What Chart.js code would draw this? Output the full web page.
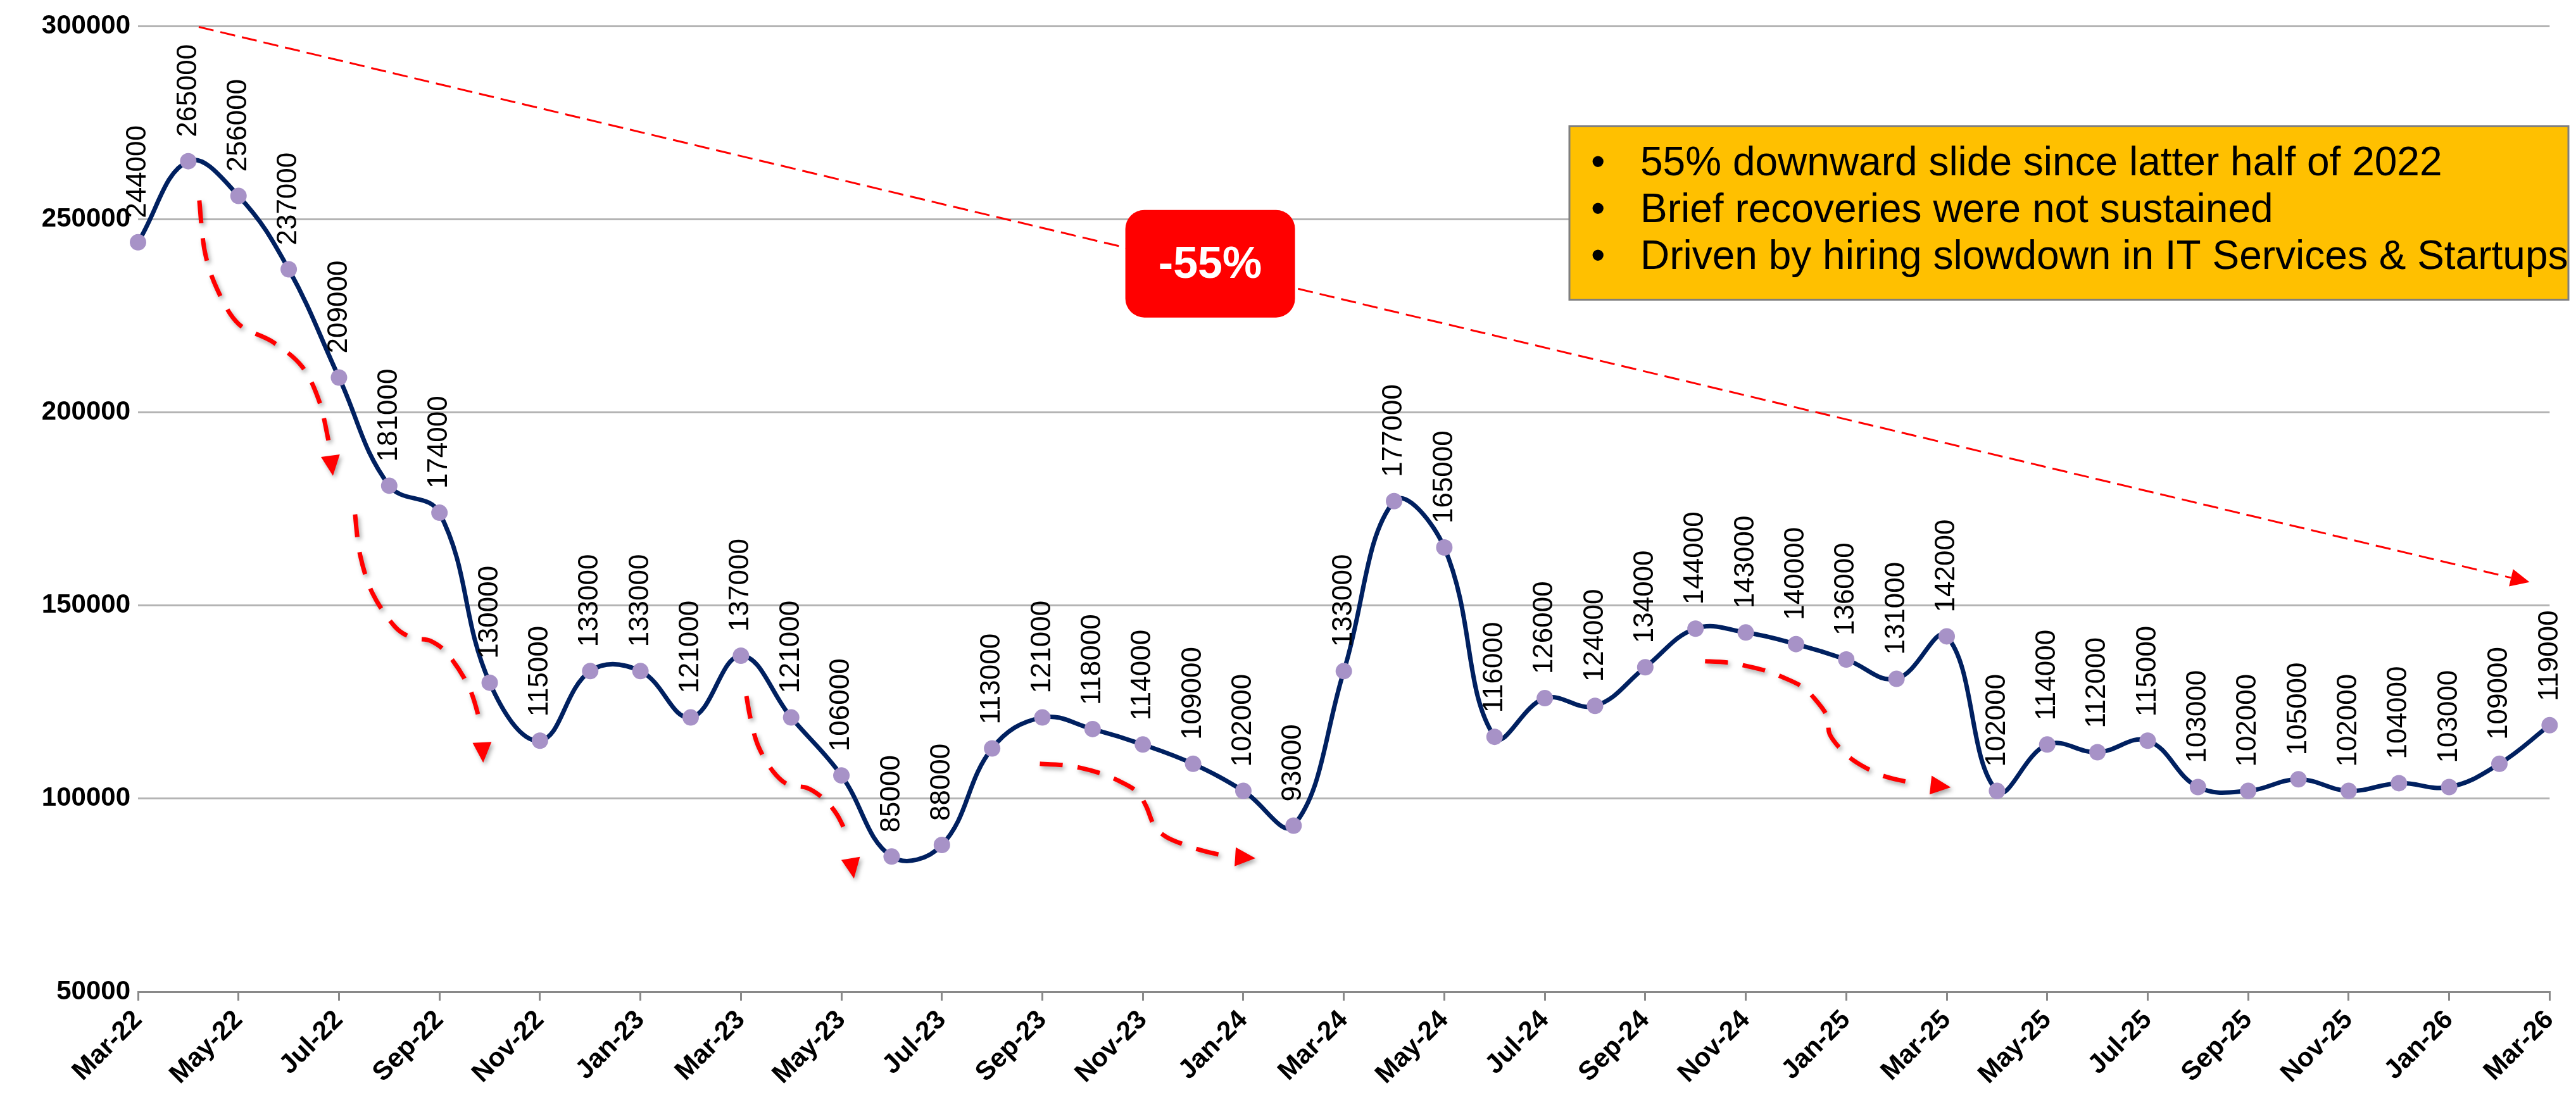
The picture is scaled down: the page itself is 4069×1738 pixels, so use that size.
<!DOCTYPE html>
<html>
<head>
<meta charset="utf-8">
<script src="https://cdn.jsdelivr.net/npm/chart.js@4.4.1/dist/chart.umd.min.js"></script>
<style>
  html, body { margin: 0; padding: 0; background: #fff; }
  #wrap { width: 4069px; height: 1738px; position: relative; }
</style>
</head>
<body>
<div id="wrap"><canvas id="graph"></canvas></div>
<script>
// monthly job postings, Mar-22 .. Mar-26
const months = ['Mar-22','Apr-22','May-22','Jun-22','Jul-22','Aug-22','Sep-22','Oct-22','Nov-22','Dec-22',
  'Jan-23','Feb-23','Mar-23','Apr-23','May-23','Jun-23','Jul-23','Aug-23','Sep-23','Oct-23','Nov-23','Dec-23',
  'Jan-24','Feb-24','Mar-24','Apr-24','May-24','Jun-24','Jul-24','Aug-24','Sep-24','Oct-24','Nov-24','Dec-24',
  'Jan-25','Feb-25','Mar-25','Apr-25','May-25','Jun-25','Jul-25','Aug-25','Sep-25','Oct-25','Nov-25','Dec-25',
  'Jan-26','Feb-26','Mar-26'];
const postings = [244000,265000,256000,237000,209000,181000,174000,130000,115000,133000,
  133000,121000,137000,121000,106000,85000,88000,113000,121000,118000,114000,109000,
  102000,93000,133000,177000,165000,116000,126000,124000,134000,144000,143000,140000,
  136000,131000,142000,102000,114000,112000,115000,103000,102000,105000,102000,104000,
  103000,109000,119000];
const yMin = 50000;
const yMax = 300000;
const yStep = 50000;

// texts of the call-outs
const slideLabel = '-55%';
const notes = ['55% downward slide since latter half of 2022',
  'Brief recoveries were not sustained',
  'Driven by hiring slowdown in IT Services & Startups'];

// call-out anchors in chart units: [month index, value]
const trendLine = [[1.21, 299750], [47.6, 156030]];
const slideBoxAt = [21.34, 238460];
const notesBoxAt = [28.49, 274030];
const dipArrows = [
  [[1.22,254850],[1.33,241580],[1.58,231740],[2.0,222890],[2.69,218140],[3.27,211750],[3.61,202740],[3.79,192740],[3.88,183560]],
  [[4.32,173570],[4.42,163080],[4.67,153080],[5.11,144560],[5.47,141610],[5.83,140790],[6.18,137180],[6.6,128500],[6.83,118670],[6.87,109320]],
  [[12.11,126530],[12.19,120800],[12.34,113750],[12.63,107190],[12.94,103590],[13.32,102770],[13.66,99820],[13.91,95890],[14.1,90970],[14.25,79340]],
  [[17.95,109000],[18.41,108670],[18.74,108010],[19.16,106540],[19.5,104740],[19.87,101950],[20.06,98180],[20.23,92940],[20.48,89990],[20.91,87690],[21.23,86380],[21.67,85070],[22.24,84580]],
  [[31.19,135550],[31.63,135220],[31.99,134400],[32.4,133090],[32.73,131450],[33.12,128990],[33.38,125710],[33.62,121290],[33.67,116700],[33.93,112270],[34.21,109320],[34.61,106540],[34.91,105230],[35.38,103920],[36.08,102930]]
];

const FONT = '"Liberation Sans", Arial, sans-serif';

// draws a red dashed path with a filled head at its last point
function drawArrow(ctx, pts, width, dash, headLen, headHalf, smooth) {
  let tip = pts[pts.length - 1];
  let body = pts.slice(0, -1);
  let from = body[body.length - 1];
  let dx = tip[0] - from[0], dy = tip[1] - from[1];
  let d = Math.sqrt(dx * dx + dy * dy);
  let ux = dx / d, uy = dy / d;
  let base = [tip[0] - ux * headLen, tip[1] - uy * headLen];

  ctx.save();
  ctx.strokeStyle = '#FF0000';
  ctx.fillStyle = '#FF0000';
  ctx.lineWidth = width;
  ctx.setLineDash(dash);
  ctx.beginPath();
  ctx.moveTo(body[0][0], body[0][1]);
  if (!smooth) {
    ctx.lineTo(base[0], base[1]);
  } else {
    // catmull-rom through the points
    for (let i = 0; i < body.length - 1; i++) {
      let p0 = body[i - 1] || body[i];
      let p1 = body[i];
      let p2 = body[i + 1];
      let p3 = body[i + 2] || p2;
      ctx.bezierCurveTo(
        p1[0] + (p2[0] - p0[0]) / 6, p1[1] + (p2[1] - p0[1]) / 6,
        p2[0] - (p3[0] - p1[0]) / 6, p2[1] - (p3[1] - p1[1]) / 6,
        p2[0], p2[1]);
    }
  }
  ctx.stroke();
  ctx.setLineDash([]);
  ctx.beginPath();
  ctx.moveTo(tip[0], tip[1]);
  ctx.lineTo(base[0] - uy * headHalf, base[1] + ux * headHalf);
  ctx.lineTo(base[0] + uy * headHalf, base[1] - ux * headHalf);
  ctx.closePath();
  ctx.fill();
  ctx.restore();
}

const overlays = {
  id: 'overlays',
  afterDatasetsDraw(chart) {
    let ctx = chart.ctx;
    let xs = chart.scales.x;
    let ys = chart.scales.y;
    let toPx = p => [xs.getPixelForValue(p[0]), ys.getPixelForValue(p[1])];

    // value labels above every point, rotated
    let meta = chart.getDatasetMeta(0);
    ctx.save();
    ctx.font = '44px ' + FONT;
    ctx.fillStyle = '#000';
    ctx.textAlign = 'left';
    ctx.textBaseline = 'middle';
    meta.data.forEach((pt, i) => {
      ctx.save();
      ctx.translate(pt.x, pt.y - 38);
      ctx.rotate(-Math.PI / 2);
      ctx.fillText(String(postings[i]), 0, 0);
      ctx.restore();
    });
    ctx.restore();

    // long trend arrow
    drawArrow(ctx, trendLine.map(toPx), 3, [24, 11], 30, 14, false);

    // short dashed arrows with a soft shadow
    ctx.save();
    ctx.shadowColor = 'rgba(0,0,0,0.35)';
    ctx.shadowBlur = 7;
    ctx.shadowOffsetX = 3;
    ctx.shadowOffsetY = 4;
    dipArrows.forEach(a => drawArrow(ctx, a.map(toPx), 7, [36, 24], 32, 15, true));
    ctx.restore();

    // red -55% badge
    let c = toPx(slideBoxAt);
    ctx.save();
    ctx.fillStyle = '#FF0000';
    ctx.beginPath();
    ctx.roundRect(c[0] - 134, c[1] - 85, 268, 170, 30);
    ctx.fill();
    ctx.fillStyle = '#fff';
    ctx.font = 'bold 70px ' + FONT;
    ctx.textAlign = 'center';
    ctx.textBaseline = 'middle';
    ctx.fillText(slideLabel, c[0], c[1] + 3);
    ctx.restore();

    // yellow notes box
    let b = toPx(notesBoxAt);
    ctx.save();
    ctx.fillStyle = '#FFC000';
    ctx.fillRect(b[0], b[1], 1578, 274);
    ctx.strokeStyle = '#7F7F7F';
    ctx.lineWidth = 3;
    ctx.strokeRect(b[0], b[1], 1578, 274);
    ctx.fillStyle = '#000';
    ctx.font = '64px ' + FONT;
    ctx.textBaseline = 'middle';
    notes.forEach((t, i) => {
      let ly = b[1] + 60 + i * 74;
      ctx.fillText('\u2022', b[0] + 34, ly);
      ctx.fillText(t, b[0] + 112, ly);
    });
    ctx.restore();
  }
};

let graph = document.getElementById('graph');
let config = {
  type: 'line',
  data: {
    labels: months,
    datasets: [{
      data: postings,
      borderColor: '#002060',
      borderWidth: 7,
      tension: 0.4,
      fill: false,
      pointRadius: 13,
      pointHoverRadius: 13,
      pointBackgroundColor: '#A792C7',
      pointBorderWidth: 0
    }]
  },
  options: {
    responsive: true,
    maintainAspectRatio: false,
    animation: false,
    layout: { padding: { top: 41, right: 26, left: 0, bottom: 0 } },
    plugins: {
      legend: { display: false },
      tooltip: { enabled: false }
    },
    scales: {
      x: {
        offset: false,
        afterFit: s => { s.height = 171; },
        border: { display: true, color: '#898989', width: 3 },
        grid: {
          drawOnChartArea: false,
          tickLength: 14,
          lineWidth: 3,
          tickColor: c => (c.index % 2 === 0 ? '#898989' : 'rgba(0,0,0,0)')
        },
        ticks: {
          autoSkip: false,
          minRotation: 45,
          maxRotation: 45,
          padding: 6,
          color: '#000',
          font: { family: FONT, size: 42, weight: 'bold' },
          callback: (v, i) => (i % 2 === 0 ? months[i] : '')
        }
      },
      y: {
        min: yMin,
        max: yMax,
        afterFit: s => { s.width = 218; },
        border: { display: false },
        grid: { color: '#B4B4B4', lineWidth: 3, drawTicks: false },
        ticks: {
          stepSize: yStep,
          padding: 12,
          color: '#000',
          font: { family: FONT, size: 42, weight: 'bold' },
          callback: v => String(v)
        }
      }
    }
  },
  plugins: [overlays]
};
let myChart = new Chart(graph, config);
</script>
</body>
</html>
